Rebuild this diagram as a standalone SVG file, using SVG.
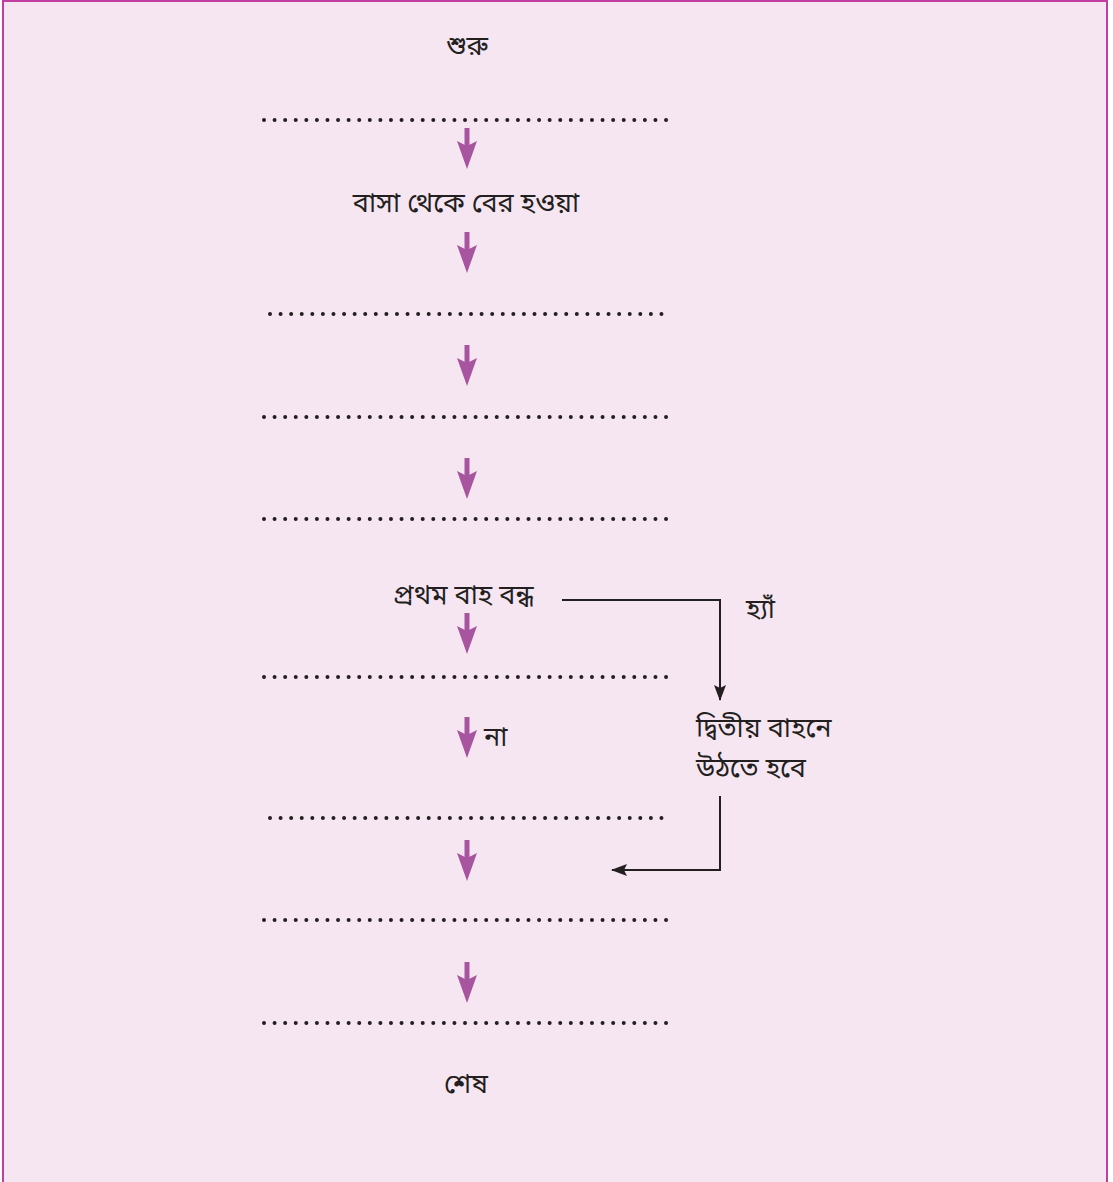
<svg xmlns="http://www.w3.org/2000/svg" width="1113" height="1182" viewBox="0 0 1113 1182">
<defs>
<style>
.t{font-family:"Noto Sans Bengali","Noto Serif Bengali","Lohit Bengali","Noto Sans",sans-serif;font-size:27px;fill:#231f20}
.dots{stroke:#231f20;stroke-width:4;stroke-linecap:round;stroke-dasharray:0 10.58;fill:none}
.pa{fill:#a855a0}
.k{stroke:#231f20;stroke-width:2;fill:none}
</style>
<g id="parrow"><rect class="pa" x="-2.5" y="0" width="5" height="18"/><path class="pa" d="M-10,13 L0,41 L10,13 L0,18 Z"/></g>
<marker id="ah" viewBox="0 0 16 12" refX="15" refY="6" markerWidth="16" markerHeight="12" orient="auto" markerUnits="userSpaceOnUse"><path d="M0,0 L16,6 L0,12 L3,6 Z" fill="#231f20"/></marker>
</defs>
<rect x="3" y="1" width="1104" height="1190" fill="#f5e6f1" stroke="#c13fa3" stroke-width="2"/>
<g id="n-start"><text class="t" x="467" y="55" text-anchor="middle">শুরু</text></g>
<g id="n-d1"><path class="dots" d="M264,120 H667"/></g>
<g id="n-leave"><text class="t" x="466" y="212" text-anchor="middle">বাসা থেকে বের হওয়া</text></g>
<g id="n-d2"><path class="dots" d="M270,314 H662"/></g>
<g id="n-d3"><path class="dots" d="M264,417 H667"/></g>
<g id="n-d4"><path class="dots" d="M264,519 H667"/></g>
<g id="n-q"><text class="t" x="393" y="604">প্রথম বাহ বন্ধ</text></g>
<g id="n-yes"><text class="t" x="746" y="618">হ্যাঁ</text></g>
<g id="n-d5"><path class="dots" d="M264,677 H667"/></g>
<g id="n-no"><text class="t" x="484" y="746">না</text></g>
<g id="n-second"><text class="t" x="696" y="737">দ্বিতীয় বাহনে</text><text class="t" x="696" y="777">উঠতে হবে</text></g>
<g id="n-d6"><path class="dots" d="M270,818 H662"/></g>
<g id="n-d7"><path class="dots" d="M264,920 H667"/></g>
<g id="n-d8"><path class="dots" d="M264,1023 H667"/></g>
<g id="n-end"><text class="t" x="466" y="1093" text-anchor="middle">শেষ</text></g>
<g id="connectors">
<use href="#parrow" x="467" y="128"/>
<use href="#parrow" x="467" y="232"/>
<use href="#parrow" x="467" y="345"/>
<use href="#parrow" x="467" y="458"/>
<use href="#parrow" x="467" y="613"/>
<use href="#parrow" x="467" y="717"/>
<use href="#parrow" x="467" y="840"/>
<use href="#parrow" x="467" y="962"/>
<path class="k" d="M562,600 H720 V700" marker-end="url(#ah)"/>
<path class="k" d="M720,796 V870 H612" marker-end="url(#ah)"/>
</g>
</svg>
